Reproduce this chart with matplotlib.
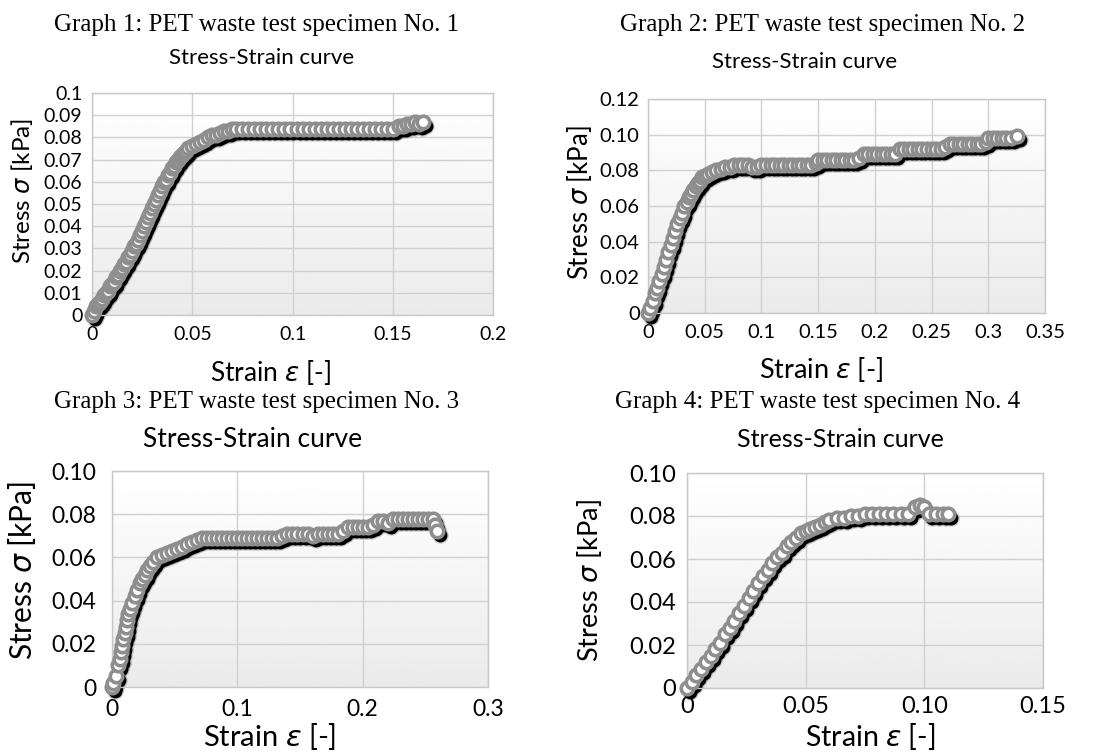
import numpy as np
import matplotlib
matplotlib.use("Agg")
import matplotlib.pyplot as plt
from matplotlib.transforms import offset_copy

plt.rcParams['font.family'] = ['Lato', 'DejaVu Sans']
plt.rcParams['mathtext.fontset'] = 'dejavusans'

# --- datos ---
# Probeta 1
x1 = [0.000, 0.001, 0.002, 0.003, 0.004, 0.005, 0.006, 0.007, 0.008, 0.009,
      0.010, 0.011, 0.012, 0.013, 0.014, 0.015, 0.016, 0.017, 0.018, 0.019,
      0.020, 0.021, 0.022, 0.023, 0.024, 0.025, 0.026, 0.027, 0.028, 0.029,
      0.030, 0.031, 0.032, 0.033, 0.034, 0.035, 0.036, 0.037, 0.038, 0.039,
      0.040, 0.041, 0.042, 0.043, 0.044, 0.045, 0.046, 0.047, 0.048, 0.050,
      0.052, 0.054, 0.056, 0.058, 0.060, 0.062, 0.064, 0.066, 0.068, 0.070,
      0.072, 0.075, 0.078, 0.081, 0.084, 0.087, 0.090, 0.093, 0.096, 0.099,
      0.102, 0.105, 0.108, 0.111, 0.114, 0.117, 0.120, 0.123, 0.126, 0.129,
      0.132, 0.135, 0.138, 0.141, 0.144, 0.147, 0.150, 0.153, 0.155, 0.157,
      0.159, 0.161, 0.163, 0.165]
y1 = [0.000, 0.002, 0.004, 0.005, 0.006, 0.007, 0.009, 0.010, 0.011, 0.013,
      0.014, 0.015, 0.017, 0.018, 0.020, 0.021, 0.023, 0.024, 0.026, 0.027,
      0.029, 0.031, 0.032, 0.034, 0.036, 0.038, 0.040, 0.042, 0.044, 0.046,
      0.048, 0.050, 0.052, 0.054, 0.056, 0.058, 0.060, 0.061, 0.063, 0.064,
      0.066, 0.067, 0.069, 0.070, 0.071, 0.072, 0.073, 0.074, 0.075, 0.076,
      0.077, 0.078, 0.079, 0.080, 0.081, 0.081, 0.082, 0.083, 0.083, 0.084,
      0.084, 0.084, 0.084, 0.084, 0.084, 0.084, 0.084, 0.084, 0.084, 0.084,
      0.084, 0.084, 0.084, 0.084, 0.084, 0.084, 0.084, 0.084, 0.084, 0.084,
      0.084, 0.084, 0.084, 0.084, 0.084, 0.084, 0.084, 0.085, 0.085, 0.086,
      0.086, 0.087, 0.086, 0.087]

# Probeta 2
x2 = [0.000, 0.002, 0.004, 0.006, 0.008, 0.010, 0.012, 0.014, 0.016, 0.018,
      0.020, 0.022, 0.024, 0.026, 0.028, 0.030, 0.032, 0.034, 0.036, 0.038,
      0.040, 0.042, 0.044, 0.046, 0.048, 0.050, 0.053, 0.056, 0.060, 0.064,
      0.068, 0.072, 0.076, 0.080, 0.084, 0.088, 0.092, 0.096, 0.100, 0.104,
      0.108, 0.112, 0.116, 0.120, 0.124, 0.128, 0.132, 0.136, 0.140, 0.144,
      0.148, 0.150, 0.154, 0.158, 0.162, 0.166, 0.170, 0.174, 0.178, 0.182,
      0.186, 0.190, 0.194, 0.198, 0.202, 0.206, 0.210, 0.214, 0.218, 0.222,
      0.226, 0.230, 0.234, 0.238, 0.242, 0.246, 0.250, 0.254, 0.258, 0.262,
      0.266, 0.270, 0.274, 0.278, 0.282, 0.286, 0.290, 0.294, 0.298, 0.300,
      0.304, 0.308, 0.312, 0.316, 0.320, 0.325]
y2 = [0.000, 0.003, 0.007, 0.011, 0.014, 0.018, 0.022, 0.026, 0.030, 0.034,
      0.038, 0.042, 0.046, 0.050, 0.053, 0.056, 0.060, 0.062, 0.065, 0.067,
      0.069, 0.071, 0.073, 0.074, 0.076, 0.077, 0.078, 0.079, 0.080, 0.081,
      0.082, 0.082, 0.083, 0.083, 0.083, 0.083, 0.082, 0.082, 0.083, 0.083,
      0.083, 0.083, 0.083, 0.083, 0.083, 0.083, 0.083, 0.083, 0.083, 0.083,
      0.084, 0.086, 0.086, 0.086, 0.086, 0.086, 0.086, 0.086, 0.086, 0.086,
      0.087, 0.089, 0.089, 0.089, 0.089, 0.089, 0.089, 0.089, 0.089, 0.092,
      0.092, 0.092, 0.092, 0.092, 0.092, 0.092, 0.092, 0.092, 0.092, 0.093,
      0.095, 0.095, 0.095, 0.095, 0.095, 0.095, 0.095, 0.095, 0.096, 0.098,
      0.098, 0.098, 0.098, 0.098, 0.098, 0.099]

# Probeta 3
x3 = [0.000, 0.001, 0.003, 0.005, 0.006, 0.007, 0.008, 0.009, 0.010, 0.011,
      0.012, 0.013, 0.014, 0.016, 0.018, 0.020, 0.022, 0.024, 0.026, 0.028,
      0.030, 0.033, 0.036, 0.040, 0.044, 0.048, 0.052, 0.056, 0.060, 0.064,
      0.068, 0.072, 0.076, 0.080, 0.084, 0.088, 0.092, 0.096, 0.100, 0.104,
      0.108, 0.112, 0.116, 0.120, 0.124, 0.128, 0.132, 0.136, 0.140, 0.144,
      0.148, 0.152, 0.156, 0.160, 0.164, 0.168, 0.172, 0.176, 0.180, 0.184,
      0.188, 0.192, 0.196, 0.200, 0.204, 0.208, 0.212, 0.216, 0.220, 0.224,
      0.228, 0.232, 0.236, 0.240, 0.244, 0.248, 0.252, 0.256, 0.258, 0.259]
y3 = [0.000, 0.002, 0.005, 0.010, 0.013, 0.016, 0.019, 0.022, 0.025, 0.028,
      0.031, 0.034, 0.036, 0.039, 0.042, 0.045, 0.048, 0.050, 0.052, 0.054,
      0.056, 0.058, 0.060, 0.061, 0.062, 0.063, 0.064, 0.065, 0.066, 0.067,
      0.068, 0.069, 0.069, 0.069, 0.069, 0.069, 0.069, 0.069, 0.069, 0.069,
      0.069, 0.069, 0.069, 0.069, 0.069, 0.069, 0.069, 0.070, 0.071, 0.071,
      0.071, 0.071, 0.071, 0.070, 0.071, 0.071, 0.071, 0.071, 0.071, 0.072,
      0.074, 0.074, 0.074, 0.074, 0.074, 0.075, 0.077, 0.077, 0.076, 0.078,
      0.078, 0.078, 0.078, 0.078, 0.078, 0.078, 0.078, 0.078, 0.075, 0.072]

# Probeta 4
x4 = [0.000, 0.002, 0.004, 0.006, 0.008, 0.010, 0.012, 0.014, 0.016, 0.018,
      0.020, 0.022, 0.024, 0.026, 0.028, 0.030, 0.032, 0.034, 0.036, 0.038,
      0.040, 0.042, 0.044, 0.046, 0.048, 0.050, 0.052, 0.054, 0.056, 0.058,
      0.060, 0.063, 0.066, 0.069, 0.072, 0.075, 0.078, 0.081, 0.084, 0.087,
      0.090, 0.093, 0.096, 0.098, 0.100, 0.102, 0.105, 0.108, 0.110]
y4 = [0.000, 0.003, 0.006, 0.009, 0.012, 0.015, 0.018, 0.021, 0.025, 0.028,
      0.031, 0.035, 0.038, 0.042, 0.045, 0.049, 0.052, 0.055, 0.058, 0.061,
      0.063, 0.066, 0.068, 0.070, 0.072, 0.073, 0.074, 0.075, 0.076, 0.077,
      0.078, 0.079, 0.079, 0.080, 0.080, 0.081, 0.081, 0.081, 0.081, 0.081,
      0.081, 0.081, 0.084, 0.085, 0.084, 0.081, 0.081, 0.081, 0.081]

W, H = 1096, 754

def fx(px):
    return px / W

def fy(py):
    return 1 - py / H


def panel(fig, box, xs, ys, xlim, xt, xtl, ylim, yt, ytl, tick_fs, xpad, ypad):
    # box = (left, top, right, bottom) en píxeles
    l, t, r, b = box
    ax = fig.add_axes([fx(l), fy(b), (r - l) / W, (b - t) / H])
    # fondo degradado estilo Excel
    grad = np.linspace(1.0, 0.92, 100).reshape(-1, 1)
    ax.imshow(grad, cmap='gray', vmin=0, vmax=1, aspect='auto',
              extent=[0, 1, 0, 1], transform=ax.transAxes, zorder=0)
    ax.set_xlim(*xlim)
    ax.set_ylim(*ylim)
    ax.set_xticks(xt)
    ax.set_xticklabels(xtl)
    ax.set_yticks(yt)
    ax.set_yticklabels(ytl)
    ax.tick_params(length=0, labelsize=tick_fs, colors='black')
    ax.tick_params(axis='x', pad=xpad)
    ax.tick_params(axis='y', pad=ypad)
    ax.grid(True, color='#d0d0d0', linewidth=1.0)
    ax.set_axisbelow(True)
    for s in ax.spines.values():
        s.set_color('#c8c8c8')
        s.set_linewidth(1.0)
    # sombra negra desplazada (con halo difuso)
    halo = offset_copy(ax.transData, fig=fig, x=3, y=-4, units='dots')
    ax.plot(xs, ys, 'o', transform=halo, ms=12, color='#555555', mec='none',
            alpha=0.25, zorder=2, clip_on=False)
    sh = offset_copy(ax.transData, fig=fig, x=3, y=-4, units='dots')
    ax.plot(xs, ys, 'o', transform=sh, ms=9, color='black', mec='black',
            zorder=2, clip_on=False)
    ax.plot(xs, ys, 'o', ms=9, mfc='white', mec='#8e8e8e', mew=2.6,
            zorder=3, clip_on=False)
    return ax


fig = plt.figure(figsize=(10.96, 7.54), dpi=100)

serif = 'Liberation Serif'
ylab = r'Stress $\sigma$ [kPa]'
xlab = r'Strain $\varepsilon$ [-]'

# Gráfico 1
panel(fig, (92, 93, 493, 315), x1, y1, (0, 0.2),
      [0, 0.05, 0.1, 0.15, 0.2], ['0', '0.05', '0.1', '0.15', '0.2'],
      (0, 0.1), np.arange(11) / 100,
      ['0', '0.01', '0.02', '0.03', '0.04', '0.05', '0.06', '0.07', '0.08', '0.09', '0.1'],
      14, 8, 7)
fig.text(fx(257), fy(25), 'Graph 1: PET waste test specimen No. 1', family=serif,
         fontsize=18, ha='center', va='center')
fig.text(fx(262), fy(58), 'Stress-Strain curve', fontsize=16, ha='center', va='center')
fig.text(fx(270), fy(372), xlab, fontsize=19, ha='center', va='center')
fig.text(fx(22), fy(191), ylab, fontsize=17.5, ha='center', va='center', rotation=90)

# Gráfico 2
panel(fig, (648, 99, 1045, 313), x2, y2, (0, 0.35),
      [0, 0.05, 0.1, 0.15, 0.2, 0.25, 0.3, 0.35],
      ['0', '0.05', '0.1', '0.15', '0.2', '0.25', '0.3', '0.35'],
      (0, 0.12), [0, 0.02, 0.04, 0.06, 0.08, 0.10, 0.12],
      ['0', '0.02', '0.04', '0.06', '0.08', '0.10', '0.12'],
      14.5, 8, 6)
fig.text(fx(823), fy(25), 'Graph 2: PET waste test specimen No. 2', family=serif,
         fontsize=18, ha='center', va='center')
fig.text(fx(805), fy(62), 'Stress-Strain curve', fontsize=16, ha='center', va='center')
fig.text(fx(821), fy(369), xlab, fontsize=19.5, ha='center', va='center')
fig.text(fx(580), fy(203), ylab, fontsize=18.5, ha='center', va='center', rotation=90)

# Gráfico 3
panel(fig, (112, 471, 488, 687), x3, y3, (0, 0.3),
      [0, 0.1, 0.2, 0.3], ['0', '0.1', '0.2', '0.3'],
      (0, 0.1), [0, 0.02, 0.04, 0.06, 0.08, 0.10],
      ['0', '0.02', '0.04', '0.06', '0.08', '0.10'],
      16.5, 9, 11)
fig.text(fx(257), fy(402), 'Graph 3: PET waste test specimen No. 3', family=serif,
         fontsize=18, ha='center', va='center')
fig.text(fx(253), fy(439), 'Stress-Strain curve', fontsize=19, ha='center', va='center')
fig.text(fx(270), fy(737), xlab, fontsize=21, ha='center', va='center')
fig.text(fx(22), fy(570), ylab, fontsize=21.5, ha='center', va='center', rotation=90)

# Gráfico 4
panel(fig, (687, 473, 1043, 688), x4, y4, (0, 0.15),
      [0, 0.05, 0.10, 0.15], ['0', '0.05', '0.10', '0.15'],
      (0, 0.1), [0, 0.02, 0.04, 0.06, 0.08, 0.10],
      ['0', '0.02', '0.04', '0.06', '0.08', '0.10'],
      17, 6, 8)
fig.text(fx(818), fy(402), 'Graph 4: PET waste test specimen No. 4', family=serif,
         fontsize=18, ha='center', va='center')
fig.text(fx(840), fy(439), 'Stress-Strain curve', fontsize=18, ha='center', va='center')
fig.text(fx(870), fy(737), xlab, fontsize=20.5, ha='center', va='center')
fig.text(fx(590), fy(581), ylab, fontsize=19.5, ha='center', va='center', rotation=90)

fig.savefig('out.png', dpi=100)
plt.close(fig)
